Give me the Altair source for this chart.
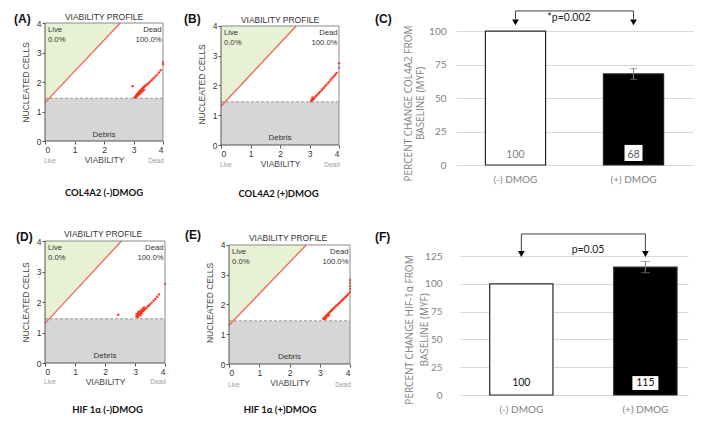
import altair as alt
import pandas as pd

# ---------------- data ----------------
FLOW_TICKS = [0, 1, 2, 3, 4]
LIVE_EDGE_X = [0.0, 2.55]
LIVE_EDGE_Y = [1.3, 4.0]
DEBRIS_LEVEL = 1.45

# dead-cell events
A_X = [3.03, 3.06, 3.08, 3.10, 3.12, 3.14, 3.16, 3.18, 3.20, 3.22, 3.25, 3.28, 3.31, 3.34, 3.37, 3.40,
       3.44, 3.48, 3.08, 3.12, 3.16, 3.20, 3.24, 3.28, 3.32, 3.36, 3.52, 3.57, 3.62, 3.68, 3.74, 3.80,
       3.86, 3.92, 2.97, 4.00, 4.00]
A_Y = [1.47, 1.50, 1.52, 1.55, 1.57, 1.60, 1.62, 1.65, 1.67, 1.70, 1.73, 1.76, 1.79, 1.82, 1.85, 1.87,
       1.90, 1.93, 1.49, 1.52, 1.56, 1.59, 1.63, 1.67, 1.70, 1.74, 1.97, 2.02, 2.07, 2.13, 2.19, 2.25,
       2.32, 2.40, 1.86, 2.60, 2.68]
B_X = [3.05, 3.08, 3.10, 3.12, 3.15, 3.10, 3.18, 3.22, 3.27, 3.32, 3.37, 3.42, 3.47, 3.52, 3.57, 3.62,
       3.67, 3.72, 3.77, 3.82, 3.87, 3.92, 4.00, 4.00]
B_Y = [1.48, 1.50, 1.55, 1.52, 1.55, 1.60, 1.60, 1.65, 1.70, 1.75, 1.80, 1.86, 1.91, 1.97, 2.02, 2.08,
       2.13, 2.19, 2.25, 2.30, 2.36, 2.42, 2.60, 2.75]
D_X = [3.05, 3.08, 3.10, 3.12, 3.15, 3.18, 3.20, 3.23, 3.26, 3.30, 3.34, 3.38, 3.42, 3.46, 3.50, 3.10,
       3.14, 3.18, 3.22, 3.26, 3.30, 3.05, 3.12, 3.56, 3.62, 3.68, 3.74, 3.80, 2.44, 4.00]
D_Y = [1.52, 1.55, 1.50, 1.58, 1.60, 1.56, 1.65, 1.62, 1.70, 1.73, 1.77, 1.80, 1.85, 1.88, 1.93, 1.62,
       1.66, 1.70, 1.74, 1.78, 1.82, 1.60, 1.68, 1.98, 2.04, 2.10, 2.17, 2.25, 1.58, 2.60]
E_X = [3.12, 3.15, 3.17, 3.20, 3.22, 3.25, 3.28, 3.31, 3.34, 3.37, 3.40, 3.44, 3.48, 3.52, 3.56, 3.60,
       3.64, 3.68, 3.72, 3.76, 3.80, 3.84, 3.88, 3.92, 3.96, 4.00, 3.15, 3.20, 3.25, 3.30, 4.00, 4.00,
       4.00, 4.00]
E_Y = [1.52, 1.55, 1.57, 1.60, 1.63, 1.65, 1.69, 1.72, 1.75, 1.78, 1.81, 1.85, 1.89, 1.93, 1.97, 2.00,
       2.04, 2.08, 2.12, 2.16, 2.20, 2.24, 2.28, 2.32, 2.37, 2.42, 1.50, 1.53, 1.60, 1.64, 2.52, 2.62,
       2.72, 2.82]

BAR_CATS = ["(-) DMOG", "(+) DMOG"]
C_MEANS = [100, 68]
C_LOW = [100, 64]
C_HIGH = [100, 72]
C_TICKS = [0, 25, 50, 75, 100]
F_MEANS = [100, 115]
F_LOW = [100, 110]
F_HIGH = [100, 120]
F_TICKS = [0, 25, 50, 75, 100, 125]

ARIAL = "Liberation Sans"
CAL = "Lato"
RED = "#ff2a14"
ONE = pd.DataFrame({"k": [0]})


def vtext(txt, x, y, size, color="#333333", font=ARIAL, weight="normal", align="center", baseline="middle"):
    return alt.Chart(ONE).mark_text(text=txt, font=font, fontSize=size, fontWeight=weight, color=color,
                                    align=align, baseline=baseline).encode(x=alt.value(x), y=alt.value(y))


def frame(w, h, L, T, R, B):
    # invisible box that fixes how much room each panel takes in the grid
    return alt.Chart(ONE).mark_rect(opacity=0).encode(
        x=alt.value(-L), x2=alt.value(w + R), y=alt.value(-T), y2=alt.value(h + B))


def flow_panel(tag, label, xs, ys, w, h, ymax, fr, tag_pos, title_pos, label_pos, under_y):
    xsc = alt.Scale(domain=[0, 4], nice=False, zero=False)
    ysc = alt.Scale(domain=[0, ymax], nice=False, zero=False)
    common = dict(values=FLOW_TICKS, grid=False, domain=False, tickColor="#555555", tickSize=3,
                  labelFont=ARIAL, labelFontSize=8.5, labelColor="#333333", labelPadding=1,
                  titleFont=ARIAL, titleFontSize=8.5, titleFontWeight="normal", titleColor="#444444")
    xax = alt.Axis(title="VIABILITY", titlePadding=2, **common)
    yax = alt.Axis(title="NUCLEATED CELLS", titlePadding=6, **common)

    def X(f):
        return alt.X(f, type="quantitative", scale=xsc, axis=xax)

    def Y(f):
        return alt.Y(f, type="quantitative", scale=ysc, axis=yax)

    live = pd.DataFrame({"x": LIVE_EDGE_X, "y": LIVE_EDGE_Y, "top": [4.0, 4.0]})
    deb = pd.DataFrame({"x0": [0.0], "x1": [4.0], "y0": [0.0], "y1": [DEBRIS_LEVEL]})
    dark = pd.DataFrame({"x0": [0.0, 0.0], "x1": [0.0, 4.0], "y0": [0.0, 0.0], "y1": [4.0, 0.0]})
    light = pd.DataFrame({"x0": [4.0, 0.0], "x1": [4.0, 4.0], "y0": [0.0, 4.0], "y1": [4.0, 4.0]})
    pts = pd.DataFrame({"x": xs, "y": ys})
    lt = pd.DataFrame({"x": [0.1, 0.1], "y": [3.76, 3.44], "t": ["Live", "0.0%"]})
    rt = pd.DataFrame({"x": [3.95, 3.95], "y": [3.76, 3.44], "t": ["Dead", "100.0%"]})
    ct = pd.DataFrame({"x": [2.0], "y": [0.22], "t": ["Debris"]})

    layers = [
        frame(w, h, *fr),
        alt.Chart(live).mark_area(color="#e8f1d4", opacity=1).encode(x=X("x"), y=Y("y"), y2="top"),
        alt.Chart(deb).mark_rect(color="#d6d6d6").encode(x=X("x0"), x2="x1", y=Y("y0"), y2="y1"),
        alt.Chart(deb).mark_rule(color="#999999", strokeDash=[3, 2], strokeWidth=1).encode(
            x=X("x0"), x2="x1", y=Y("y1")),
        alt.Chart(live).mark_line(color="#f0665a", strokeWidth=1.3).encode(x=X("x"), y=Y("y")),
        alt.Chart(pts).mark_circle(color=RED, size=6, opacity=0.9).encode(x=X("x"), y=Y("y")),
        alt.Chart(light).mark_rule(color="#8a8a8a", strokeWidth=1).encode(
            x=X("x0"), x2="x1", y=Y("y0"), y2="y1"),
        alt.Chart(dark).mark_rule(color="#555555", strokeWidth=1).encode(
            x=X("x0"), x2="x1", y=Y("y0"), y2="y1"),
        alt.Chart(lt).mark_text(font=ARIAL, fontSize=7.7, color="#333333", align="left").encode(
            x=X("x"), y=Y("y"), text="t"),
        alt.Chart(rt).mark_text(font=ARIAL, fontSize=7.7, color="#333333", align="right").encode(
            x=X("x"), y=Y("y"), text="t"),
        alt.Chart(ct).mark_text(font=ARIAL, fontSize=8, color="#333333", align="center").encode(
            x=X("x"), y=Y("y"), text="t"),
        vtext(tag, tag_pos[0], tag_pos[1], 12, color="#111111", weight="bold", align="left"),
        vtext("VIABILITY PROFILE", title_pos[0], title_pos[1], 8.5, color="#333333"),
        vtext("Live", 5, under_y, 6.5, color="#9a9a9a"),
        vtext("Dead", w - 7, under_y, 6.5, color="#9a9a9a"),
        vtext(label, label_pos[0], label_pos[1], 9.5, color="#111111", font=CAL, weight="bold"),
    ]
    return alt.layer(*layers).properties(width=w, height=h)


def bar_panel(tag, means, lows, highs, ticks, ymax, ytitle, w, h, fr, tag_pos, xscale_kw,
              title_x, title_y, line_h, label_pad,
              box_w, box_lo, box_hi, val_y, val_colors, err_cap,
              br_top, br_low, arrow_y, ptext, ptext_x, ptext_y):
    df = pd.DataFrame({"cat": BAR_CATS, "v": means, "lo": lows, "hi": highs})
    xsc = alt.Scale(domain=BAR_CATS, **xscale_kw)
    ysc = alt.Scale(domain=[0, ymax], nice=False, zero=True)
    xax = alt.Axis(title=None, domain=False, ticks=False, labelAngle=0, labelPadding=9,
                   labelColor="#7f7f7f", labelFont=CAL, labelFontSize=10)
    yax = alt.Axis(values=ticks, grid=True, gridColor="#d9d9d9", gridWidth=1, domain=False, ticks=False,
                   labelPadding=label_pad, labelColor="#7f7f7f", labelFont=CAL, labelFontSize=10,
                   title=ytitle, titleFont="Open Sans", titleFontSize=10, titleFontWeight="normal",
                   titleColor="#7f7f7f", titleLineHeight=line_h, titleX=title_x, titleY=title_y)

    def X():
        return alt.X("cat:N", scale=xsc, axis=xax, sort=BAR_CATS)

    def Y(f):
        return alt.Y(f, type="quantitative", scale=ysc, axis=yax)

    err = df[df["hi"] > df["lo"]]
    boxes = pd.DataFrame({"cat": [BAR_CATS[1]], "b0": [box_lo], "b1": [box_hi]})
    vals = pd.DataFrame({"cat": BAR_CATS, "y": [val_y, val_y], "t": [str(m) for m in means],
                         "c": val_colors})
    brk = pd.DataFrame({"cat": [BAR_CATS[0], BAR_CATS[0], BAR_CATS[1], BAR_CATS[1]],
                        "y": [br_low, br_top, br_top, br_low], "o": [0, 1, 2, 3]})
    arr = pd.DataFrame({"cat": BAR_CATS, "y": [arrow_y, arrow_y]})
    # panel letter and p-value note, anchored on the value axis
    notes = pd.DataFrame({"y": [tag_pos[1], ptext_y], "t": [tag, ptext]})

    layers = [
        frame(w, h, *fr),
        alt.Chart(df).mark_bar(stroke="#262626", strokeWidth=1.2).encode(
            x=X(), y=Y("v"),
            fill=alt.Fill("cat:N", scale=alt.Scale(domain=BAR_CATS, range=["#ffffff", "#000000"]),
                          legend=None)),
        alt.Chart(err).mark_rule(color="#7f7f7f", strokeWidth=1).encode(x=X(), y=Y("lo"), y2="hi"),
        alt.Chart(err).mark_tick(color="#7f7f7f", size=err_cap, thickness=1).encode(x=X(), y=Y("lo")),
        alt.Chart(err).mark_tick(color="#7f7f7f", size=err_cap, thickness=1).encode(x=X(), y=Y("hi")),
        alt.Chart(boxes).mark_bar(width=box_w, color="#ffffff").encode(x=X(), y=Y("b0"), y2="b1"),
        alt.Chart(vals).mark_text(font=CAL, fontSize=10.5).encode(
            x=X(), y=Y("y"), text="t", color=alt.Color("c:N", scale=None)),
        alt.Chart(brk).mark_line(color="#404040", strokeWidth=1).encode(x=X(), y=Y("y"), order="o"),
        alt.Chart(arr).mark_point(shape="triangle-down", filled=True, size=45, color="#000000",
                                  opacity=1).encode(x=X(), y=Y("y")),
        alt.Chart(notes.iloc[[1]]).mark_text(font=CAL, fontSize=10.5, color="#222222").encode(
            x=alt.value(ptext_x), y=Y("y"), text="t"),
        alt.Chart(notes.iloc[[0]]).mark_text(font=ARIAL, fontSize=12, fontWeight="bold", color="#111111",
                                             align="left").encode(
            x=alt.value(tag_pos[0]), y=Y("y"), text="t"),
    ]
    return alt.layer(*layers).properties(width=w, height=h)


# row 1: plot tops share y=21 ; row 2: plot tops share y=239
A = flow_panel("(A)", "COL4A2 (-)DMOG", A_X, A_Y, 118, 118, 4.0, (36, 13, 8, 83),
               (-31, -4.5), (59, -6), (59, 170), 138)
B = flow_panel("(B)", "COL4A2 (+)DMOG", B_X, B_Y, 118, 122, 4.1, (50, 13, 22, 79),
               (-37, -4.5), (59, -2.7), (57.5, 171), 142)
D = flow_panel("(D)", "HIF 1\u03b1 (-)DMOG", D_X, D_Y, 120, 122, 4.0, (37, 17, 10, 55),
               (-29, -4.5), (58, -7.3), (62.5, 169), 141)
E = flow_panel("(E)", "HIF 1\u03b1 (+)DMOG", E_X, E_Y, 121, 123, 4.134, (54, 17, 15, 54),
               (-44, -6), (59, -3.3), (51, 169), 144)

# tag / note heights are given on each panel's value axis
C = bar_panel("(C)", C_MEANS, C_LOW, C_HIGH, C_TICKS, 106,
              ["PERCENT CHANGE COL4A2 FROM", "BASELINE (MYF)"], 237, 142, (95, 13, 8, 59), (-81, 109.3),
              dict(paddingInner=0.49, paddingOuter=0.249, align=0.5), -43, 80, 12, 10,
              18, 3, 15, 7.8, ["#7f7f7f", "#595959"], 7,
              115, 109, 106.4, "*p=0.002", 113, 109.7)
F = bar_panel("(F)", F_MEANS, F_LOW, F_HIGH, F_TICKS, 138.5,
              ["PERCENT CHANGE HIF-1\u03b1 FROM", "BASELINE (MYF)"], 228, 154, (95, 17, 12, 23), (-85, 142.5),
              dict(paddingInner=0.49, paddingOuter=0.164, align=0.73), -45.5, 88.5, 15, 18,
              26, 4.5, 17, 10.8, ["#111111", "#111111"], 9,
              144.8, 129, 126.8, "p=0.05", 128, 130.4)

row1 = alt.hconcat(A, B, C, spacing=0)
row2 = alt.hconcat(D, E, F, spacing=0)
chart = alt.vconcat(row1, row2, spacing=0).properties(
    padding={"left": 0, "top": 0, "right": 0, "bottom": 0}
).configure_view(stroke=None)

chart.save("out.html", embed_options={"renderer": "svg", "actions": False})
